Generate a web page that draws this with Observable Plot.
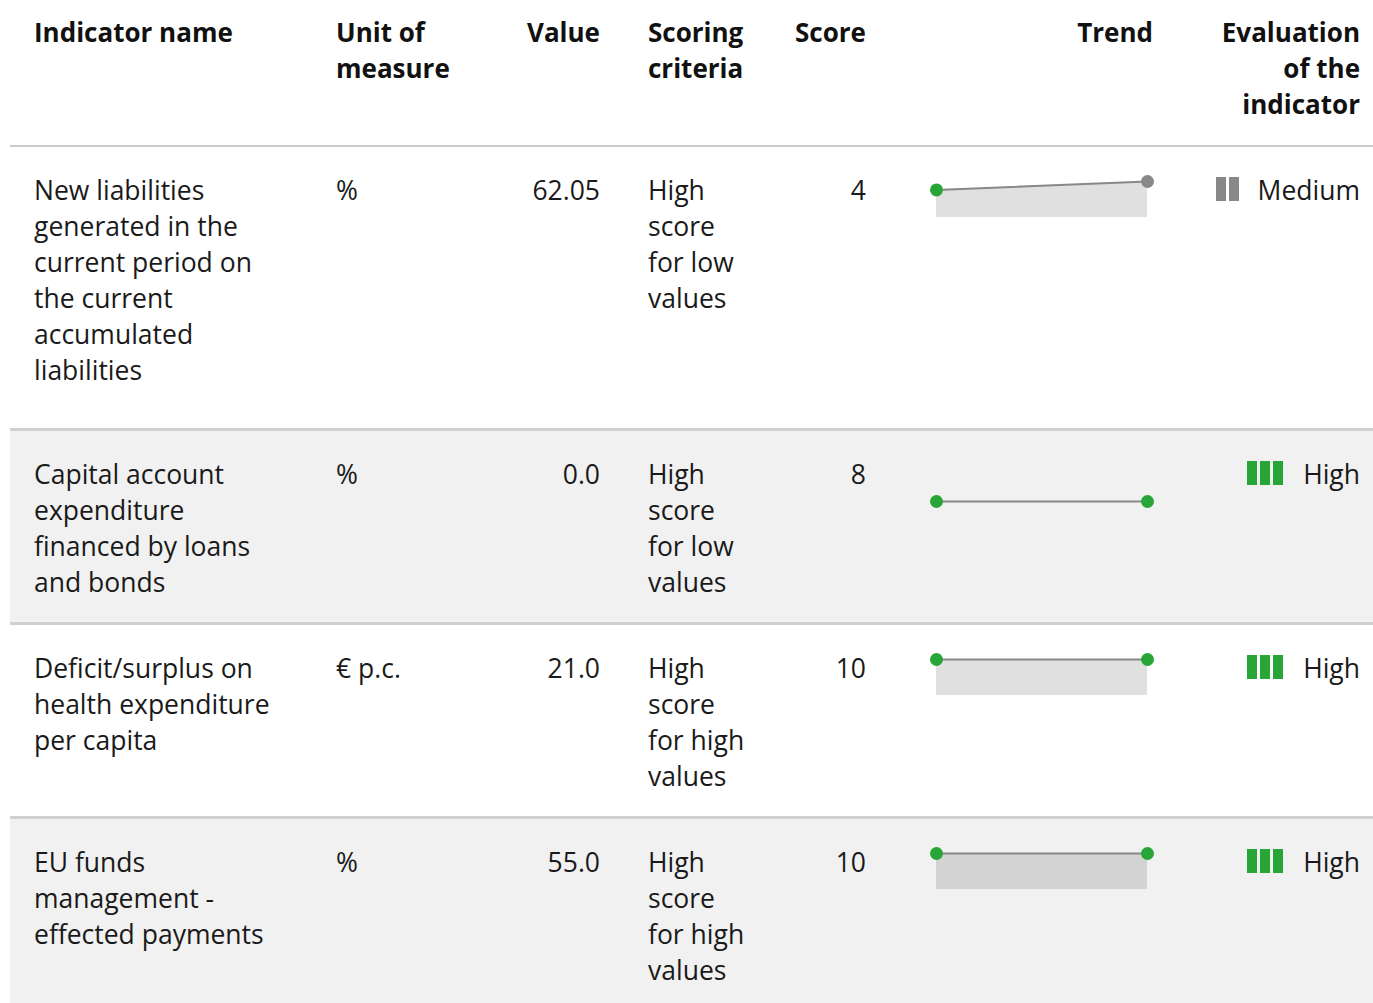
<!DOCTYPE html>
<html><head><meta charset="utf-8">
<script src="https://cdn.jsdelivr.net/npm/d3@7"></script>
<script src="https://cdn.jsdelivr.net/npm/@observablehq/plot@0.6"></script>
<style>
html,body{margin:0;padding:0;background:#fff;}
body{font-family:"Open Sans",sans-serif;font-size:26px;line-height:36px;color:#1a1a1a;}
table{border-collapse:collapse;table-layout:fixed;width:1363px;margin-left:10px;}
th,td{padding:25px 24px 22px 24px;vertical-align:top;text-align:left;white-space:nowrap;}
td{font-size:26.5px;}
th{font-weight:700;padding-top:14px;padding-bottom:23px;color:#111;}
thead tr{border-bottom:2px solid #cccccc;}
tbody tr + tr{border-top:3px solid #d0d0d0;}
tbody tr:nth-child(even){background:#f1f1f1;}
.r{text-align:right;}
th:last-child, td:last-child{padding-right:13px;}
.eval{display:flex;justify-content:flex-end;align-items:flex-start;gap:18px;}
.eval svg{margin-top:5px;}
.trend svg{margin-left:auto;margin-top:-1px;}
tbody tr:first-child td{padding-bottom:40px;}
</style>
</head><body>
<div id="chart"></div>
<script>
// ---- data ----
const headers = ["Indicator name", "Unit of\nmeasure", "Value", "Scoring\ncriteria", "Score", "Trend", "Evaluation\nof the\nindicator"];
const indicatorNames = [
  "New liabilities\ngenerated in the\ncurrent period on\nthe current\naccumulated\nliabilities",
  "Capital account\nexpenditure\nfinanced by loans\nand bonds",
  "Deficit/surplus on\nhealth expenditure\nper capita",
  "EU funds\nmanagement -\neffected payments"
];
const units = ["%", "%", "€ p.c.", "%"];
const values = [62.05, 0.0, 21.0, 55.0];
const previousValues = [47.5, 0.0, 21.0, 55.0];
const scoringCriteria = [
  "High\nscore\nfor low\nvalues",
  "High\nscore\nfor low\nvalues",
  "High\nscore\nfor high\nvalues",
  "High\nscore\nfor high\nvalues"
];
const scores = [4, 8, 10, 10];
const previousEvaluations = ["High", "High", "High", "High"];
const evaluations = ["Medium", "High", "High", "High"];
const evalLevels = {Low: 1, Medium: 2, High: 3};
const evalColors = {Low: "#d62728", Medium: "#888888", High: "#27a637"};

// ---- helpers ----
const fmt = v => Number.isInteger(v) ? v.toFixed(1) : String(v);
const br = s => s.split("\n").map(l => l.replace(/&/g,"&amp;").replace(/</g,"&lt;")).join("<br>");

function spark(i) {
  const data = [
    {t: 0, v: previousValues[i], c: evalColors[previousEvaluations[i]]},
    {t: 1, v: values[i], c: evalColors[evaluations[i]]}
  ];
  const max = d3.max(data, d => d.v) || 1;
  return Plot.plot({
    width: 239, height: 52,
    marginLeft: 22, marginRight: 6, marginTop: 10, marginBottom: 6,
    x: {domain: [0, 1], axis: null},
    y: {domain: [0, max], axis: null},
    color: {type: "identity"},
    style: {background: "transparent", overflow: "visible"},
    marks: [
      Plot.areaY(data, {x: "t", y: "v", fill: "#000", fillOpacity: 0.12}),
      Plot.lineY(data, {x: "t", y: "v", stroke: "#888", strokeWidth: 2}),
      Plot.dot(data, {x: "t", y: "v", fill: "c", r: 6.5})
    ]
  });
}

function evalIcon(level) {
  const n = evalLevels[level];
  const idx = d3.range(n);
  return Plot.plot({
    width: n * 11 + (n - 1) * 3, height: 24,
    margin: 0,
    x: {type: "band", domain: idx, paddingInner: 0.21, paddingOuter: 0, axis: null},
    y: {domain: [0, 1], axis: null},
    style: {background: "transparent"},
    marks: [Plot.barY(idx, {x: d => d, y: 1, fill: evalColors[level]})]
  });
}

// ---- build table ----
const align = ["", "", "r", "", "r", "r", "r"];
const table = document.createElement("table");
const cols = [302, 148, 164, 140, 126, 287, 196];
const cg = document.createElement("colgroup");
cols.forEach(w => { const c = document.createElement("col"); c.style.width = w + "px"; cg.appendChild(c); });
table.appendChild(cg);
const thead = document.createElement("thead");
const htr = document.createElement("tr");
headers.forEach((h, j) => {
  const th = document.createElement("th");
  if (align[j]) th.className = align[j];
  th.innerHTML = br(h);
  htr.appendChild(th);
});
thead.appendChild(htr);
table.appendChild(thead);
const tbody = document.createElement("tbody");
indicatorNames.forEach((name, i) => {
  const tr = document.createElement("tr");
  const cells = [br(name), br(units[i]), fmt(values[i]), br(scoringCriteria[i]), String(scores[i])];
  cells.forEach((html, j) => {
    const td = document.createElement("td");
    if (align[j]) td.className = align[j];
    td.innerHTML = html;
    tr.appendChild(td);
  });
  const tdT = document.createElement("td");
  tdT.className = "trend";
  tdT.appendChild(spark(i));
  tr.appendChild(tdT);
  const tdE = document.createElement("td");
  const box = document.createElement("div");
  box.className = "eval";
  box.appendChild(evalIcon(evaluations[i]));
  const sp = document.createElement("span");
  sp.textContent = evaluations[i];
  box.appendChild(sp);
  tdE.appendChild(box);
  tr.appendChild(tdE);
  tbody.appendChild(tr);
});
table.appendChild(tbody);
document.getElementById("chart").appendChild(table);
</script>
</body></html>
